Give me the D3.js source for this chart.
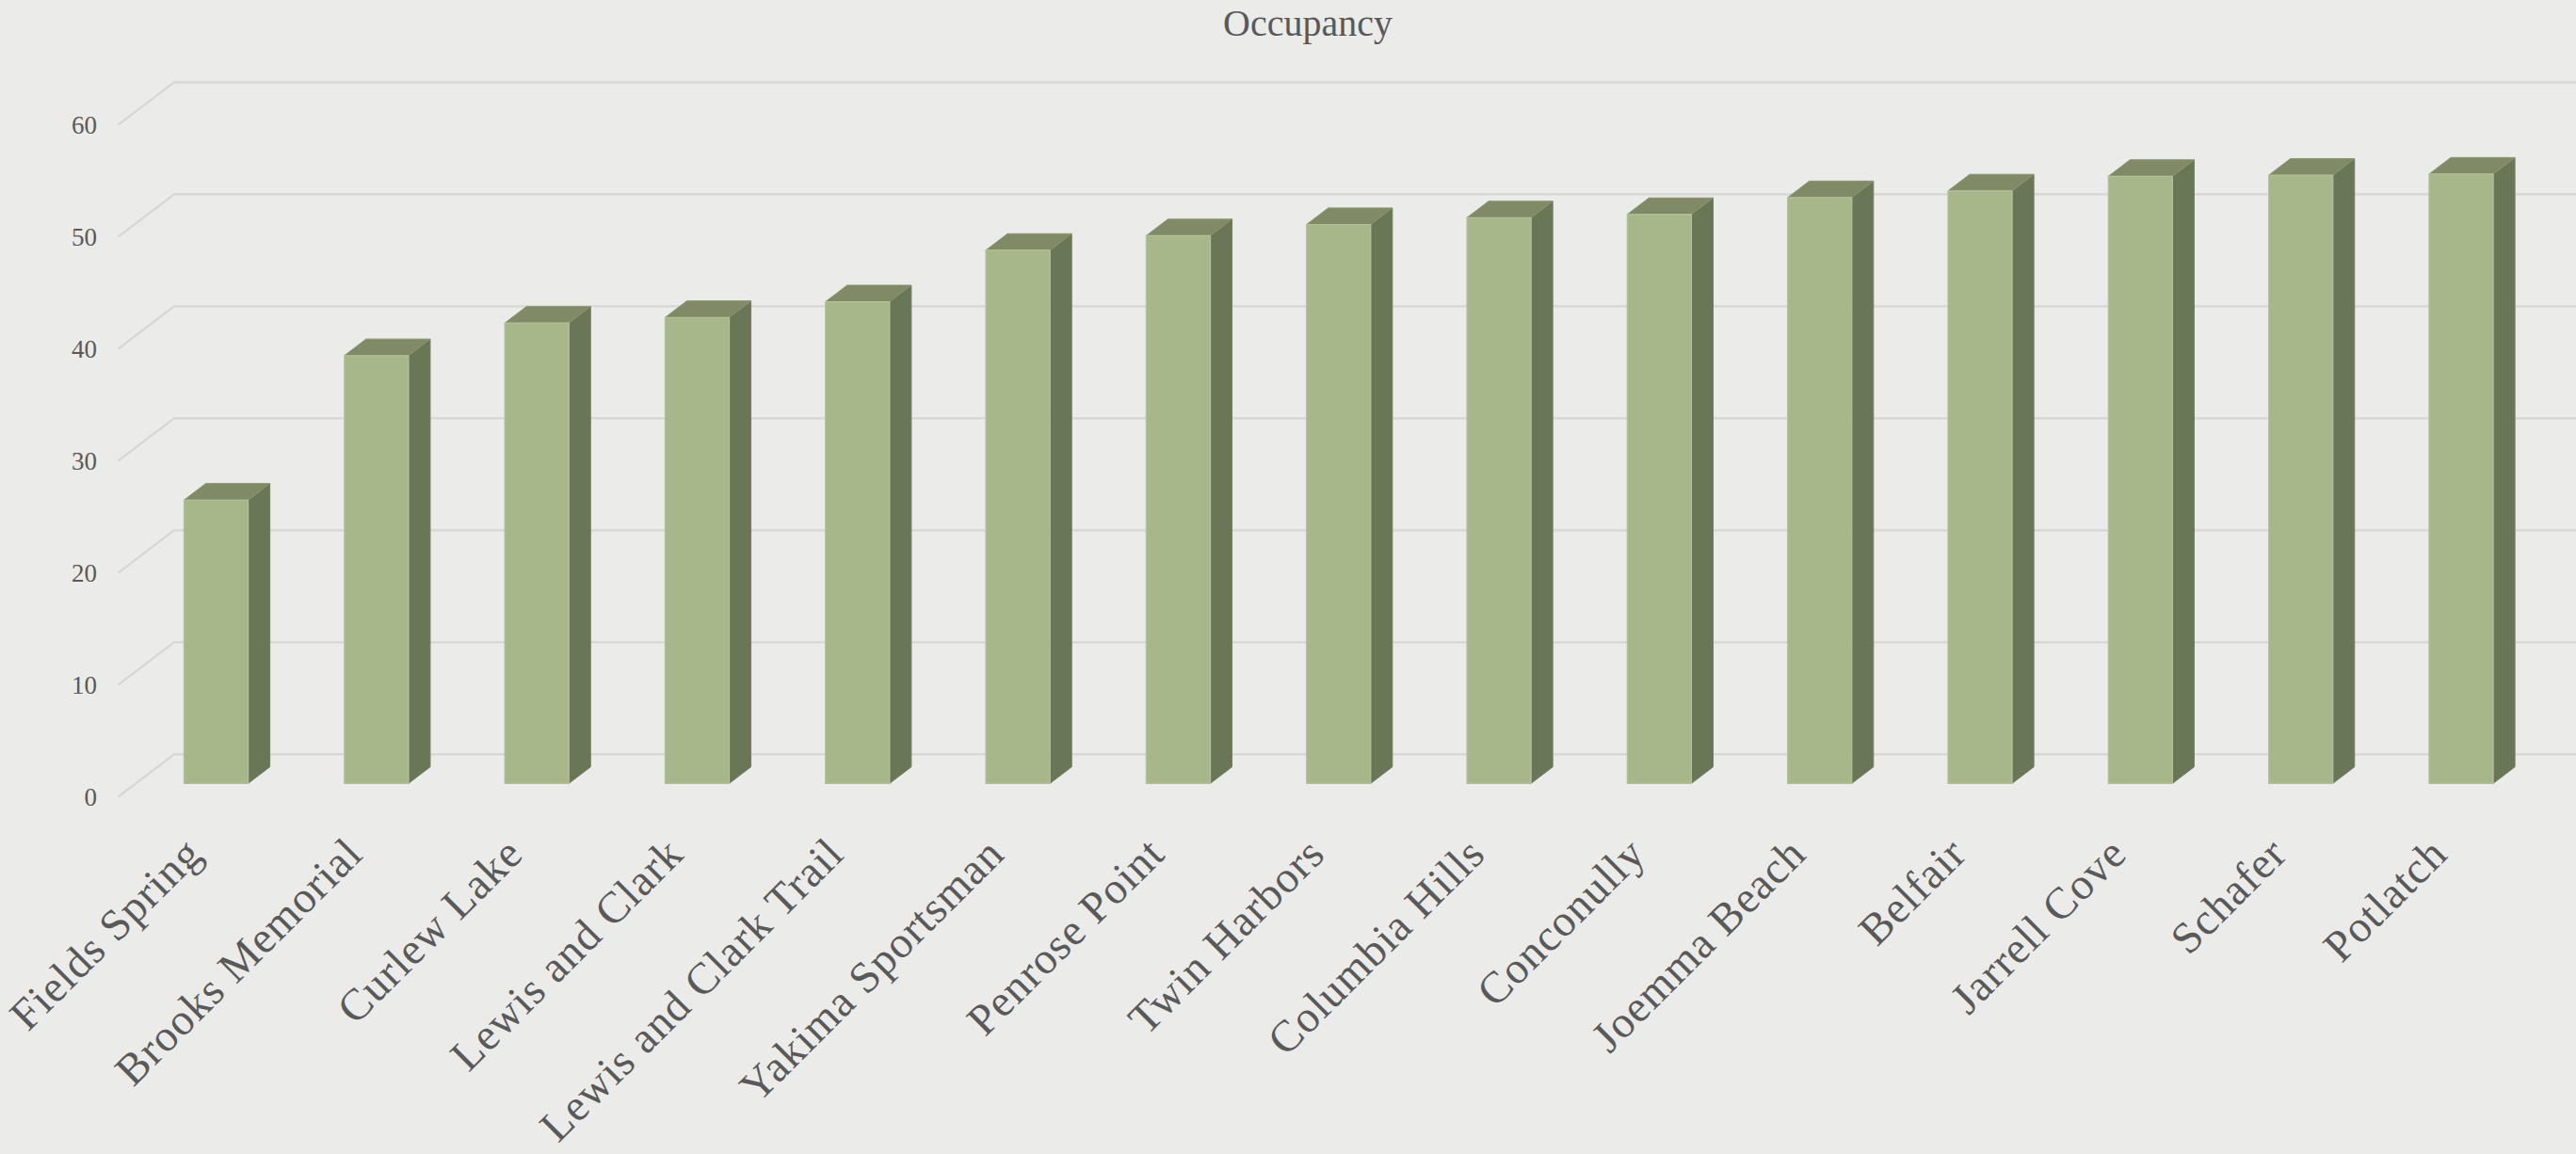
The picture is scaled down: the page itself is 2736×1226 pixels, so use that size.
<!DOCTYPE html>
<html>
<head>
<meta charset="utf-8">
<script src="https://cdn.jsdelivr.net/npm/d3@7"></script>
<style>
  html, body { margin: 0; padding: 0; background: #ebebe9; }
  svg { display: block; }
</style>
</head>
<body>
<svg id="chart" width="2736" height="1226"></svg>
<script>
const categories = ["Fields Spring","Brooks Memorial","Curlew Lake","Lewis and Clark","Lewis and Clark Trail","Yakima Sportsman","Penrose Point","Twin Harbors","Columbia Hills","Conconully","Joemma Beach","Belfair","Jarrell Cove","Schafer","Potlatch"];
const occupancy = [25.3, 38.2, 41.1, 41.6, 43.0, 47.6, 48.9, 49.9, 50.5, 50.8, 52.3, 52.9, 54.2, 54.3, 54.4];
const yTicks = [0, 10, 20, 30, 40, 50, 60];
const title = "Occupancy";

const W = 2736, H = 1226;
const svg = d3.select("#chart");
svg.append("rect").attr("width", W).attr("height", H).attr("fill", "#ebebe9");

// oblique projection: depth offset for full floor depth
const DDX = 59.5, DDY = 45.4;
const F1 = 0.317, F2 = 0.704; // bar depth extent
const x = d3.scaleBand().domain(categories).range([125.5, 2680.3]).paddingInner(0.6).paddingOuter(0.3);
const y = d3.scaleLinear().domain([0, 60]).range([846.7, 846.7 - 714]);
const P = (px, v, d) => [px + d * DDX, y(v) - d * DDY];

// gridlines
const grid = svg.append("g");
yTicks.forEach(t => {
  const a = P(125.5, t, 0), b = P(125.5, t, 1);
  grid.append("path")
    .attr("d", `M${a[0]},${a[1]}L${b[0]},${b[1]}L${W},${b[1]}`)
    .attr("fill", "none").attr("stroke", "#d6d6d4").attr("stroke-width", 2.2);
});

// y tick labels
svg.append("g").selectAll("text").data(yTicks).join("text")
  .attr("x", 103).attr("y", d => y(d)).attr("dy", "0.36em")
  .attr("text-anchor", "end")
  .attr("font-family", "'Liberation Serif', serif").attr("font-size", 27)
  .attr("fill", "#595959").text(d => d);

// bars
const bars = svg.append("g").selectAll("g").data(categories.map((c, i) => ({c, v: occupancy[i]}))).join("g");
const poly = pts => "M" + pts.map(p => p.join(",")).join("L") + "Z";
bars.append("path") // side
  .attr("d", d => {
    const xr = x(d.c) + x.bandwidth();
    return poly([P(xr, 0, F1), P(xr, d.v, F1), P(xr, d.v, F2), P(xr, 0, F2)]);
  })
  .attr("fill", "#697757").attr("stroke", "#6f7d5e").attr("stroke-width", 1);
bars.append("path") // top
  .attr("d", d => {
    const xl = x(d.c), xr = xl + x.bandwidth();
    return poly([P(xl, d.v, F1), P(xl, d.v, F2), P(xr, d.v, F2), P(xr, d.v, F1)]);
  })
  .attr("fill", "#808a67").attr("stroke", "#8a9472").attr("stroke-width", 1);
bars.append("path") // front
  .attr("d", d => {
    const xl = x(d.c), xr = xl + x.bandwidth();
    return poly([P(xl, 0, F1), P(xl, d.v, F1), P(xr, d.v, F1), P(xr, 0, F1)]);
  })
  .attr("fill", "#a7b789").attr("stroke", "#b3c199").attr("stroke-width", 1.2);

// category labels
svg.append("g").selectAll("text").data(categories).join("text")
  .attr("transform", d => {
    const cx = x(d) + x.bandwidth() / 2 + F1 * DDX;
    return `translate(${cx - 24},${898}) rotate(-45)`;
  })
  .attr("text-anchor", "end").attr("dy", "0.35em")
  .attr("font-family", "'Liberation Serif', serif").attr("font-size", 47)
  .attr("letter-spacing", 1)
  .attr("fill", "#595959").text(d => d);

// title
svg.append("text").attr("x", 1389).attr("y", 38).attr("text-anchor", "middle")
  .attr("font-family", "'Liberation Serif', serif").attr("font-size", 40)
  .attr("fill", "#595959").text(title);
</script>
</body>
</html>
